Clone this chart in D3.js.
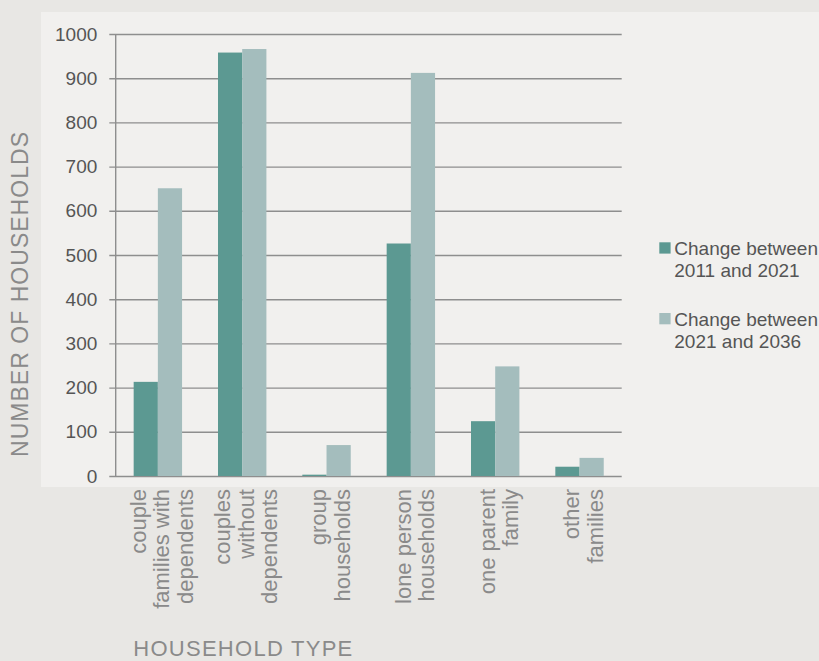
<!DOCTYPE html>
<html>
<head>
<meta charset="utf-8">
<script src="https://cdn.jsdelivr.net/npm/d3@7"></script>
<style>
  html, body { margin: 0; padding: 0; background: #e8e7e4; }
  svg { display: block; font-family: "Liberation Sans", Arial, Helvetica, sans-serif; }
</style>
</head>
<body>
<svg id="chart" width="819" height="661"></svg>
<script>
// ---- data ----
const categories = [
  ["couple", "families with", "dependents"],
  ["couples", "without", "dependents"],
  ["group", "households"],
  ["lone person", "households"],
  ["one parent", "family"],
  ["other", "families"]
];
const change2011to2021 = [213, 958, 3, 526, 124, 21];
const change2021to2036 = [651, 966, 70, 912, 248, 41];
const seriesNames = [["Change between", "2011 and 2021"], ["Change between", "2021 and 2036"]];
const yTicks = [0, 100, 200, 300, 400, 500, 600, 700, 800, 900, 1000];
const yTitle = "NUMBER OF HOUSEHOLDS";
const xTitle = "HOUSEHOLD TYPE";

// ---- layout ----
const W = 819, H = 661;
const plot = { left: 115.7, right: 621.7, top: 34, bottom: 476 };
const colors = ["#5c9992", "#a4bdbd"];

const svg = d3.select("#chart");

// panel
svg.append("rect").attr("x", 0).attr("y", 0).attr("width", W).attr("height", H).attr("fill", "#e8e7e4");
svg.append("rect").attr("x", 41).attr("y", 12).attr("width", W - 41).attr("height", 475).attr("fill", "#f1f0ee");

const x0 = d3.scaleBand().domain(d3.range(categories.length))
  .range([plot.left, plot.right]).paddingInner(0.426).paddingOuter(0.213);
const x1 = d3.scaleBand().domain([0, 1]).range([0, x0.bandwidth()]);
const y = d3.scaleLinear().domain([0, 1000]).range([plot.bottom, plot.top]);

// gridlines + tick labels via axis
const gridLeft = 109.3;
const yAxis = d3.axisLeft(y).tickValues(yTicks).tickSize(-(plot.right - gridLeft)).tickPadding(12).tickFormat(d3.format("d"));
const ga = svg.append("g").attr("transform", `translate(${gridLeft},0)`).call(yAxis);
ga.select(".domain").remove();
ga.selectAll(".tick line").attr("stroke", "#8e8e8e").attr("stroke-width", 1.4);
ga.selectAll(".tick text").attr("fill", "#555555").style("font-size", "19px").attr("font-family", null);

// bars
const series = [change2011to2021, change2021to2036];
const groups = svg.append("g").selectAll("g").data(categories).join("g")
  .attr("transform", (d, i) => `translate(${x0(i)},0)`);
groups.selectAll("rect").data((d, i) => series.map((s, k) => ({ k, v: s[i] }))).join("rect")
  .attr("x", d => x1(d.k))
  .attr("width", x1.bandwidth())
  .attr("y", d => y(d.v))
  .attr("height", d => y(0) - y(d.v))
  .attr("fill", d => colors[d.k]);

// y axis line
svg.append("line").attr("x1", plot.left).attr("x2", plot.left)
  .attr("y1", y(1000)).attr("y2", y(0)).attr("stroke", "#8e8e8e").attr("stroke-width", 1.4);

// category labels
const lineGap = 23.5;
categories.forEach((lines, i) => {
  const cx = x0(i) + x0.bandwidth() / 2 + 4;
  const t = svg.append("text")
    .attr("transform", `translate(${cx},489) rotate(-90)`)
    .attr("text-anchor", "end")
    .attr("fill", "#8a8a8a")
    .style("font-size", "22px");
  lines.forEach((ln, j) => {
    t.append("tspan").attr("x", 0)
      .attr("y", (j - (lines.length - 1) / 2) * lineGap)
      .attr("dominant-baseline", "central")
      .text(ln);
  });
});

// axis titles
svg.append("text")
  .attr("transform", `translate(28,294.5) rotate(-90)`)
  .attr("text-anchor", "middle")
  .attr("fill", "#8a8a8a")
  .attr("textLength", 325).attr("lengthAdjust", "spacing")
  .style("font-size", "23px")
  .text(yTitle);

svg.append("text")
  .attr("x", 133.3).attr("y", 656)
  .attr("fill", "#8a8a8a")
  .attr("textLength", 219).attr("lengthAdjust", "spacing")
  .style("font-size", "22px")
  .text(xTitle);

// legend
const legendTop = [242.3, 313];
seriesNames.forEach((lines, k) => {
  svg.append("rect").attr("x", 659.3).attr("y", legendTop[k]).attr("width", 11.3).attr("height", 11.3).attr("fill", colors[k]);
  const t = svg.append("text").attr("fill", "#555555").style("font-size", "19px");
  lines.forEach((ln, j) => {
    t.append("tspan").attr("x", 674.3).attr("y", legendTop[k] + 12.7 + j * 22).text(ln);
  });
});
</script>
</body>
</html>
